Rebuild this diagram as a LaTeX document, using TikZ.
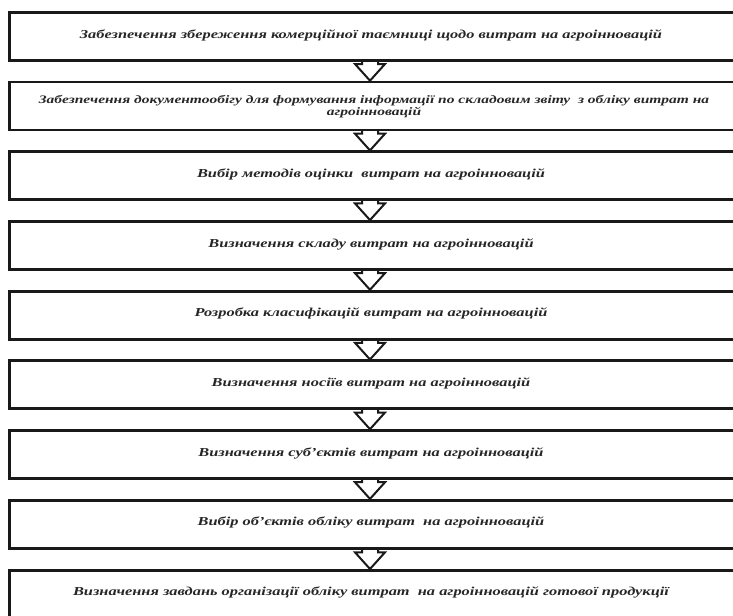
\documentclass[tikz,border=0pt]{standalone}
\usepackage{fontspec}
\setmainfont{Liberation Serif}
\newfontfamily\boxfont[FakeStretch=1.35]{Liberation Serif}
\usetikzlibrary{calc,backgrounds}
\begin{document}
\begin{tikzpicture}[x=0.75pt,y=-0.75pt,
  stepbox/.style={draw=black!90, line width=2.1pt, fill=white, inner sep=0pt,
    minimum width=556.5pt, minimum height=36pt, anchor=north west},
  boxtext/.style={font=\boxfont\bfseries\itshape\fontsize{9.1}{9}\selectfont,
    align=center, inner sep=0pt, text=black!85},
  blockarrow/.style={draw=black!90, line width=1.5pt, fill=white, line join=miter}]
\useasboundingbox (0,0) rectangle (733,616);
\clip (0,0) rectangle (733,616);
\coordinate (ax) at (370,0);
\node[stepbox] (b1) at (8,11) {};
\node[stepbox] (b2) at (8,80.7) {};
\node[stepbox] (b3) at (8,150.4) {};
\node[stepbox] (b4) at (8,220.1) {};
\node[stepbox] (b5) at (8,289.8) {};
\node[stepbox] (b6) at (8,359.5) {};
\node[stepbox] (b7) at (8,429.2) {};
\node[stepbox] (b8) at (8,498.9) {};
\node[stepbox] (b9) at (8,569) {};
\node[boxtext] (t1) at (371,35) {Забезпечення збереження комерційної таємниці щодо витрат на агроінновацій};
\node[boxtext, font=\boxfont\bfseries\itshape\fontsize{8.6}{9}\selectfont] (t2) at (374,107) {Забезпечення документообігу для формування інформації по складовим звіту \ з обліку витрат на\\агроінновацій};
\node[boxtext] (t3) at (371,174.4) {Вибір методів оцінки \ витрат на агроінновацій};
\node[boxtext] (t4) at (371,244.1) {Визначення складу витрат на агроінновацій};
\node[boxtext] (t5) at (371,313.8) {Розробка класифікацій витрат на агроінновацій};
\node[boxtext] (t6) at (371,383.5) {Визначення носіїв витрат на агроінновацій};
\node[boxtext] (t7) at (371,453.2) {Визначення суб’єктів витрат на агроінновацій};
\node[boxtext] (t8) at (371,522.9) {Вибір об’єктів обліку витрат \ на агроінновацій};
\node[boxtext] (t9) at (371,592) {Визначення завдань організації обліку витрат \ на агроінновацій готової продукції};
\begin{scope}[on background layer]
\foreach \a/\b in {b1/b2,b2/b3,b3/b4,b4/b5,b5/b6,b6/b7,b7/b8,b8/b9}{
  \draw[blockarrow] let \p1=($(\a.south -| ax)$), \p2=($(\b.north -| ax)$) in
    (\x1-6pt,\y1+2pt) -- (\x1-6pt,\y2+12.5pt) -- (\x1-11.25pt,\y2+12.5pt) --
    (\x2,\y2) -- (\x1+11.25pt,\y2+12.5pt) -- (\x1+6pt,\y2+12.5pt) -- (\x1+6pt,\y1+2pt);
}
\end{scope}
\end{tikzpicture}
\end{document}
